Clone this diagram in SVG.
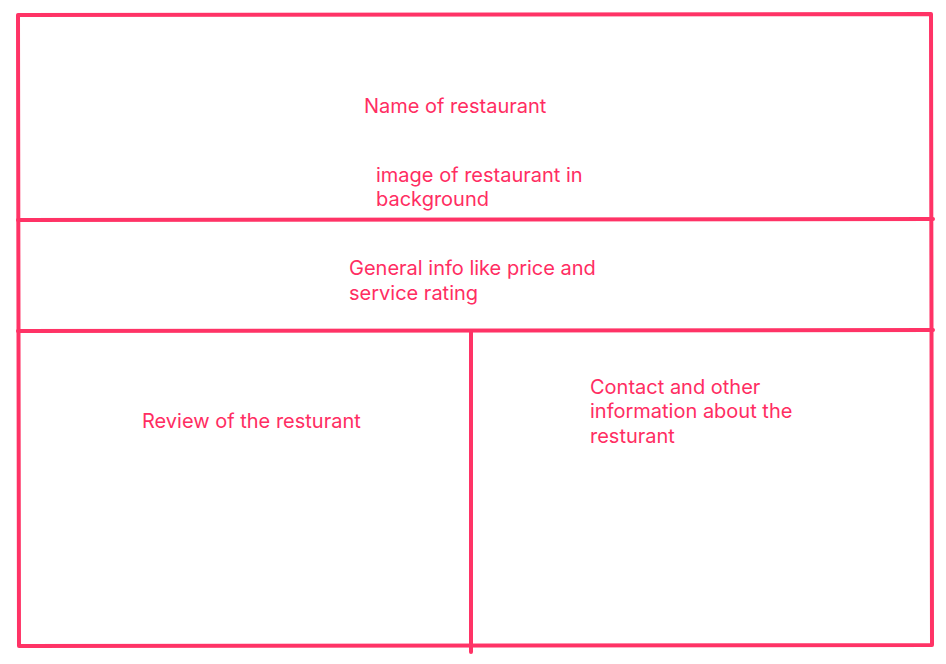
<svg xmlns="http://www.w3.org/2000/svg" width="946" height="664" viewBox="0 0 946 664">
<style>
.ln{stroke:#ff3366;stroke-width:4;fill:none;stroke-linecap:round;stroke-linejoin:round}
.t{font-family:Inter,"Liberation Sans",sans-serif;font-size:20px;fill:#ff2d62}
</style>
<rect width="946" height="664" fill="#ffffff"/>
<g id="connectors">
<path class="ln" d="M18 15 L931 14 L932 645 L19 646 Z"/>
<path class="ln" d="M18 220 L933 219"/>
<path class="ln" d="M18 331 L933 330"/>
<path class="ln" d="M471 332 L471 652"/>
</g>
<g id="header">
<text class="t" x="364" y="113">Name of restaurant</text>
<text class="t" x="376" y="182">image of restaurant in</text>
<text class="t" x="376" y="206">background</text>
</g>
<g id="general">
<text class="t" x="349" y="275">General info like price and</text>
<text class="t" x="349" y="300">service rating</text>
</g>
<g id="review">
<text class="t" x="142" y="428">Review of the resturant</text>
</g>
<g id="contact">
<text class="t" x="590" y="394">Contact and other</text>
<text class="t" x="590" y="418">information about the</text>
<text class="t" x="590" y="443">resturant</text>
</g>
</svg>
